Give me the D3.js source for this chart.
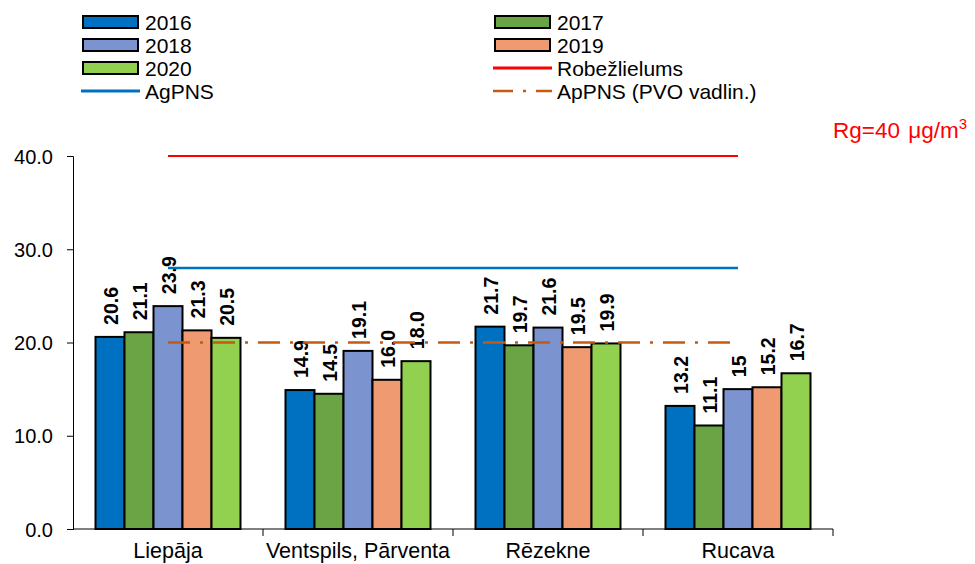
<!DOCTYPE html>
<html><head><meta charset="utf-8">
<script src="https://cdn.jsdelivr.net/npm/d3@7"></script>
<style>body{margin:0;background:#fff}svg{font-family:"Liberation Sans",Arial,sans-serif}</style>
</head><body><svg id="c" width="975" height="564"></svg>
<script>
const categories = ["Liepāja", "Ventspils, Pārventa", "Rēzekne", "Rucava"];
const years = ["2016", "2017", "2018", "2019", "2020"];
const v2016 = [20.6, 14.9, 21.7, 13.2];
const v2017 = [21.1, 14.5, 19.7, 11.1];
const v2018 = [23.9, 19.1, 21.6, 15.0];
const v2019 = [21.3, 16.0, 19.5, 15.2];
const v2020 = [20.5, 18.0, 19.9, 16.7];
const valueLabels = [
  ["20.6","14.9","21.7","13.2"],
  ["21.1","14.5","19.7","11.1"],
  ["23.9","19.1","21.6","15"],
  ["21.3","16.0","19.5","15.2"],
  ["20.5","18.0","19.9","16.7"]
];
const yTicks = [0, 10, 20, 30, 40];
const limitRg = 40, agpns = 28, appns = 20;
const colors = ["#0070C0", "#6AA444", "#7B93CF", "#F09A72", "#92D050"];
const series = [v2016, v2017, v2018, v2019, v2020];

const svg = d3.select("#c");
const x0 = d3.scaleBand().domain(categories).range([73, 833]).paddingInner(0).paddingOuter(0);
const x1 = d3.scaleBand().domain(years).range([22.5, 190 - 22.5]);
const y = d3.scaleLinear().domain([0, 40]).range([529, 156]);

// y axis
const ya = svg.append("g").attr("transform", "translate(73,0)")
  .call(d3.axisLeft(y).tickValues(yTicks).tickFormat(d3.format(".1f")).tickSizeOuter(0).tickSize(6));
ya.attr("font-family", null).attr("font-size", null);
ya.select(".domain").attr("stroke", "#000");
ya.selectAll("text").style("font-size", "20px").attr("fill", "#000").attr("x", -20).attr("dy", "0.36em");
ya.selectAll("line").attr("stroke", "#000");

// bars
categories.forEach((c, ci) => {
  const g = svg.append("g").attr("transform", `translate(${x0(c)},0)`);
  years.forEach((yr, si) => {
    const v = series[si][ci];
    g.append("rect").attr("x", x1(yr)).attr("y", y(v)).attr("width", x1.bandwidth())
      .attr("height", y(0) - y(v)).attr("fill", colors[si]).attr("stroke", "#000").attr("stroke-width", 2);
    const cx = x1(yr) + x1.bandwidth() / 2;
    g.append("text").attr("transform", `translate(${cx + 7.5},${y(v) - 12}) rotate(-90)`)
      .style("font-size", "19.5px").attr("font-weight", "bold").attr("fill", "#000")
      .text(valueLabels[si][ci]);
  });
});

// x axis
svg.append("line").attr("x1", 73).attr("x2", 833).attr("y1", 529).attr("y2", 529).attr("stroke", "#000");
const bounds = categories.map(c => x0(c)).concat([x0(categories[3]) + x0.bandwidth()]);
bounds.slice(1).forEach(b => svg.append("line").attr("x1", b).attr("x2", b).attr("y1", 529).attr("y2", 536).attr("stroke", "#000"));
categories.forEach(c => svg.append("text").attr("x", x0(c) + x0.bandwidth() / 2).attr("y", 558)
  .attr("text-anchor", "middle").style("font-size", "21.5px").attr("fill", "#000").text(c));

// reference lines
const lx1 = x0(categories[0]) + x0.bandwidth() / 2, lx2 = x0(categories[3]) + x0.bandwidth() / 2;
svg.append("line").attr("x1", lx1).attr("x2", lx2).attr("y1", y(limitRg)).attr("y2", y(limitRg)).attr("stroke", "#FF0000").attr("stroke-width", 2);
svg.append("line").attr("x1", lx1).attr("x2", lx2).attr("y1", y(agpns)).attr("y2", y(agpns)).attr("stroke", "#0070C0").attr("stroke-width", 2.5);
svg.append("line").attr("x1", lx1).attr("x2", lx2).attr("y1", y(appns)).attr("y2", y(appns)).attr("stroke", "#C55A11").attr("stroke-width", 2.5).attr("stroke-dasharray", "22,10,3,10");

svg.append("text").attr("x", 833).attr("y", 138).style("font-size", "22.5px").attr("fill", "#FF0000")
  .html('Rg=40 <tspan dx="2">μ</tspan>g/m<tspan dy="-9" style="font-size:15px">3</tspan>');

// legend
const legend = [
  {t: "2016", type: "bar", c: colors[0], col: 0, row: 0},
  {t: "2017", type: "bar", c: colors[1], col: 1, row: 0},
  {t: "2018", type: "bar", c: colors[2], col: 0, row: 1},
  {t: "2019", type: "bar", c: colors[3], col: 1, row: 1},
  {t: "2020", type: "bar", c: colors[4], col: 0, row: 2},
  {t: "Robežlielums", type: "line", c: "#FF0000", col: 1, row: 2},
  {t: "AgPNS", type: "line", c: "#0070C0", col: 0, row: 3},
  {t: "ApPNS (PVO vadlin.)", type: "dash", c: "#C55A11", col: 1, row: 3}
];
legend.forEach(l => {
  const lx = l.col === 0 ? 83 : 495, ly = 22 + l.row * 23;
  if (l.type === "bar") {
    svg.append("rect").attr("x", lx).attr("y", ly - 6).attr("width", 55).attr("height", 12)
      .attr("fill", l.c).attr("stroke", "#000").attr("stroke-width", 2);
  } else {
    const ln = svg.append("line").attr("x1", lx - 2).attr("x2", lx + 57).attr("y1", ly).attr("y2", ly)
      .attr("stroke", l.c).attr("stroke-width", l.type === "dash" ? 2.5 : 3);
    if (l.type === "dash") ln.attr("stroke-dasharray", "20,10,3,10");
  }
  svg.append("text").attr("x", lx + 62).attr("y", ly + 8).style("font-size", "21px").attr("fill", "#000").text(l.t);
});
</script></body></html>
